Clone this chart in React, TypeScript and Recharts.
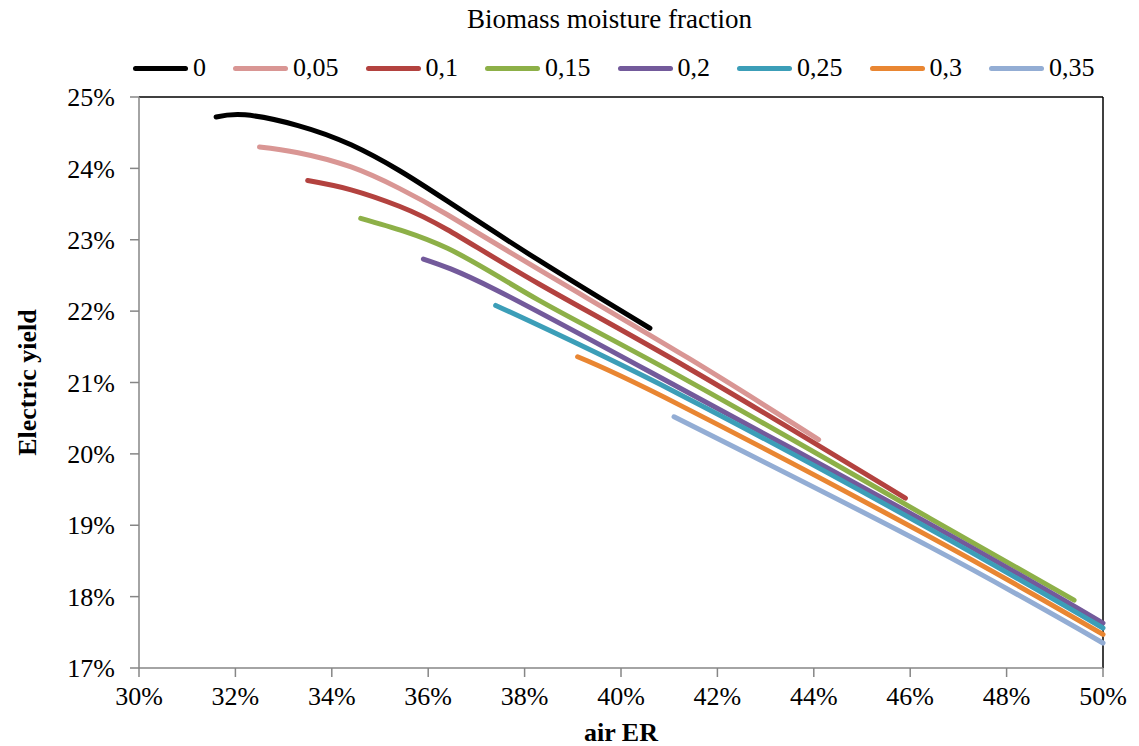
import { LineChart, Line, XAxis, YAxis, ReferenceLine } from 'recharts';

const seriesNames = ['0', '0,05', '0,1', '0,15', '0,2', '0,25', '0,3', '0,35'];
const seriesColors = ['#000000', '#D99694', '#B3423F', '#8DB048', '#735A9B', '#3C9EB8', '#E98632', '#93ADD4'];

// air ER (%) and electric yield (%) per moisture fraction
const er0 = [31.6, 32.2, 33.3, 34.4, 35.4, 36.4, 38.3, 40.6];
const yield0 = [24.72, 24.75, 24.6, 24.33, 23.97, 23.54, 22.71, 21.76];

const er005 = [32.5, 33.3, 34.4, 35.4, 36.4, 38.3, 41.4, 44.1];
const yield005 = [24.3, 24.22, 24.02, 23.72, 23.35, 22.58, 21.34, 20.2];

const er01 = [33.5, 34.4, 35.4, 36.4, 38.3, 41.4, 45.9];
const yield01 = [23.83, 23.7, 23.47, 23.14, 22.38, 21.2, 19.38];

const er015 = [34.6, 36.4, 38.3, 41.4, 46.4, 49.4];
const yield015 = [23.3, 22.88, 22.15, 21.02, 19.1, 17.95];

const er02 = [35.9, 37.4, 41.2, 46.4, 50];
const yield02 = [22.73, 22.3, 20.93, 19.02, 17.63];

const er025 = [37.4, 41.2, 46.4, 50];
const yield025 = [22.08, 20.84, 18.95, 17.56];

const er03 = [39.1, 41.2, 46.4, 50];
const yield03 = [21.36, 20.69, 18.84, 17.47];

const er035 = [41.1, 46.4, 50];
const yield035 = [20.52, 18.7, 17.35];

const xTicks = [30, 32, 34, 36, 38, 40, 42, 44, 46, 48, 50];
const yTicks = [17, 18, 19, 20, 21, 22, 23, 24, 25];

const erSets = [er0, er005, er01, er015, er02, er025, er03, er035];
const yieldSets = [yield0, yield005, yield01, yield015, yield02, yield025, yield03, yield035];

const series = seriesNames.map((name, i) => ({
  name,
  color: seriesColors[i],
  data: erSets[i].map((x, j) => ({ x, y: yieldSets[i][j] })),
}));

const font = 'Liberation Serif';
const tickStyle = { fontFamily: font, fontSize: 26, fill: '#000' };

export default function App() {
  return (
    <div style={{ position: 'absolute', left: 0, top: 0, width: 1139, height: 746, background: '#fff', fontFamily: font }}>
      <div style={{ position: 'absolute', top: 4, left: 40, width: 1139, textAlign: 'center', fontSize: 27 }}>
        Biomass moisture fraction
      </div>
      <div style={{ position: 'absolute', top: 53, left: 133, display: 'flex', alignItems: 'center', fontSize: 26 }}>
        {series.map((s) => (
          <div key={s.name} style={{ display: 'flex', alignItems: 'center', marginRight: 27 }}>
            <div style={{ width: 55, height: 5, borderRadius: 3, background: s.color, marginRight: 5 }} />
            <span>{s.name}</span>
          </div>
        ))}
      </div>
      <LineChart width={1139} height={746} margin={{ top: 97, right: 36, bottom: 0, left: 0 }}>
        <XAxis
          type="number"
          dataKey="x"
          domain={[30, 50]}
          ticks={xTicks}
          tickFormatter={(v) => `${v}%`}
          height={78}
          tick={tickStyle}
          tickSize={9}
          tickMargin={10}
          stroke="#868686"
          strokeWidth={1.5}
          label={{ value: 'air ER', position: 'insideBottom', offset: 5, style: { fontFamily: font, fontSize: 26, fontWeight: 'bold', fill: '#000' } }}
        />
        <YAxis
          type="number"
          dataKey="y"
          domain={[17, 25]}
          ticks={yTicks}
          tickFormatter={(v) => `${v}%`}
          width={139}
          tick={tickStyle}
          tickSize={9}
          tickMargin={15}
          stroke="#868686"
          strokeWidth={1.5}
          label={{ value: 'Electric yield', angle: -90, position: 'insideLeft', offset: 27, style: { fontFamily: font, fontSize: 26, fontWeight: 'bold', fill: '#000', textAnchor: 'middle' } }}
        />
        <ReferenceLine y={25} stroke="#000" strokeWidth={1.5} />
        <ReferenceLine x={50} stroke="#000" strokeWidth={1.5} />
        {series.map((s) => (
          <Line
            key={s.name}
            name={s.name}
            data={s.data}
            dataKey="y"
            type="natural"
            stroke={s.color}
            strokeWidth={5}
            strokeLinecap="round"
            dot={false}
            activeDot={false}
            isAnimationActive={false}
          />
        ))}
      </LineChart>
    </div>
  );
}
